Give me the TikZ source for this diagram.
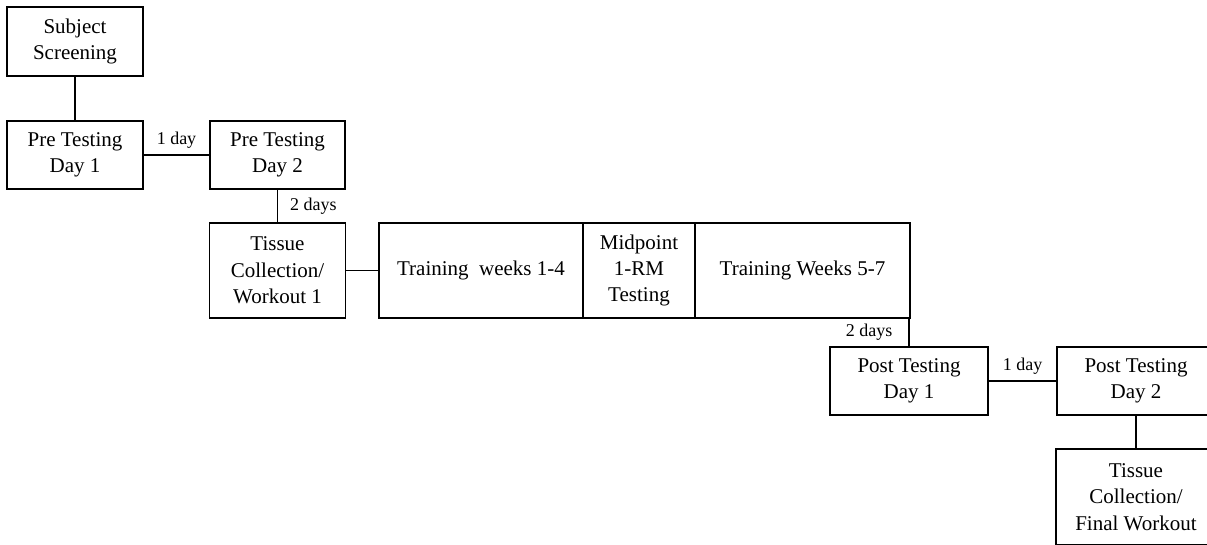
\documentclass[tikz,border=0pt]{standalone}
\usepackage{fontspec}
\setmainfont{Liberation Serif}
\begin{document}
\begin{tikzpicture}
    [x=0.5pt,y=-0.5pt,
     stage/.style={shape=rectangle,draw=black,line width=0.7pt,align=center,
       inner sep=0pt,font=\fontsize{10.5}{13.2}\selectfont},
     gap/.style={draw=black,line width=0.7pt},
     wait/.style={font=\fontsize{9}{11}\selectfont,inner sep=2pt}]
    \useasboundingbox (0,0) rectangle (1207,545);
    \node [stage,minimum width=68pt,minimum height=34.5pt] (ss) at (75,41.5)
      {Subject\\Screening};
    \node [stage,minimum width=68pt,minimum height=34pt] (pt1) at (75,155)
      {Pre Testing\\Day 1}
      edge [gap] (ss);
    \node [stage,minimum width=67.5pt,minimum height=34pt] (pt2) at (277.5,155)
      {Pre Testing\\Day 2}
      edge [gap] node [wait,above=1pt] {1 day} (pt1);
    \node [stage,minimum width=68pt,minimum height=47.5pt] (tc1) at (277.5,270.5)
      {Tissue\\Collection/\\Workout 1}
      edge [gap] node [wait,right=4pt] {2 days} (pt2);
    \node [stage,minimum width=102pt,minimum height=47.5pt] (tw1) at (481,270.5)
      {Training\ \ weeks 1-4}
      edge [gap] (tc1);
    \node [stage,minimum width=56pt,minimum height=47.5pt] (mid) at (639,270.5)
      {Midpoint\\1-RM\\Testing};
    \node [stage,minimum width=107.5pt,minimum height=47.5pt] (tw2) at (802.5,270.5)
      {Training Weeks 5-7};
    \node [stage,minimum width=79pt,minimum height=34pt] (post1) at (909,381)
      {Post Testing\\Day 1};
    \draw [gap] (post1.north) -- node [wait,left=6pt] {2 days} (post1.north |- tw2.south);
    \node [stage,minimum width=79pt,minimum height=34pt] (post2) at (1136,381)
      {Post Testing\\Day 2}
      edge [gap] node [wait,above=1pt] {1 day} (post1);
    \node [stage,minimum width=80pt,minimum height=48pt] (tcf) at (1136,497)
      {Tissue\\Collection/\\Final Workout}
      edge [gap] (post2);
  \end{tikzpicture}
\end{document}
